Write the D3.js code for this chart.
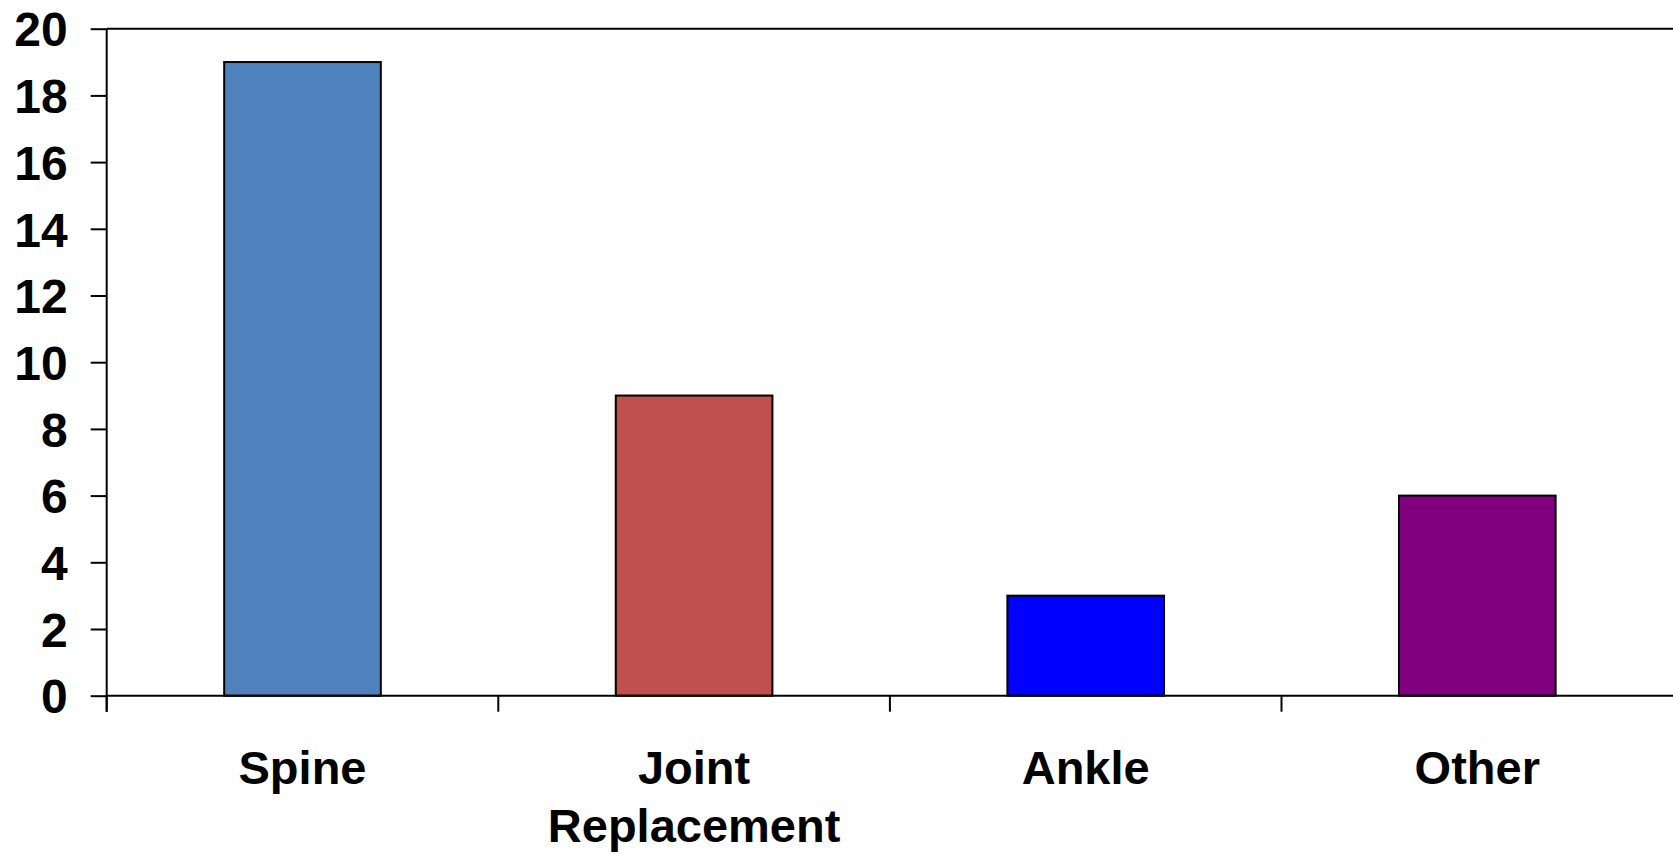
<!DOCTYPE html>
<html>
<head>
<meta charset="utf-8">
<script src="https://cdn.jsdelivr.net/npm/d3@7"></script>
<style>
  html, body { margin: 0; padding: 0; background: #fff; }
  svg { display: block; }
  text { font-family: "Liberation Sans", Arial, sans-serif; font-weight: bold; fill: #000; }
</style>
</head>
<body>
<svg id="chart" width="1673" height="856"></svg>
<script>
// Procedure counts by category
const categories = ["Spine", "Joint Replacement", "Ankle", "Other"];
const labelLines = [["Spine"], ["Joint", "Replacement"], ["Ankle"], ["Other"]];
const values = [19, 9, 3, 6];
const colors = ["#4F81BD", "#C0504D", "#0000FF", "#800080"];
const yTicks = [0, 2, 4, 6, 8, 10, 12, 14, 16, 18, 20];

const svg = d3.select("#chart");
const plotLeft = 106.7, plotRight = 1673.1, plotTop = 28.7, plotBottom = 695.7;

const x = d3.scaleBand()
  .domain(categories)
  .range([plotLeft, plotRight])
  .paddingInner(0.6)
  .paddingOuter(0.3);

const y = d3.scaleLinear().domain([0, 20]).range([plotBottom, plotTop]);

// Y axis ticks and labels
const yAxis = d3.axisLeft(y)
  .tickValues(yTicks)
  .tickFormat(d3.format("d"))
  .tickSize(16)
  .tickPadding(23);

const gy = svg.append("g")
  .attr("transform", `translate(${plotLeft},0)`)
  .call(yAxis);
gy.select(".domain").remove();
gy.selectAll(".tick line").attr("stroke", "#000").attr("stroke-width", 2);
gy.selectAll(".tick text")
  .attr("dy", "0.36em")
  .style("font-size", "48px")
  .style("font-family", '"Liberation Sans", Arial, sans-serif')
  .style("font-weight", "bold")
  .attr("fill", "#000");

// Bars
svg.append("g")
  .selectAll("rect")
  .data(categories)
  .join("rect")
  .attr("x", d => x(d))
  .attr("y", (d, i) => y(values[i]))
  .attr("width", x.bandwidth())
  .attr("height", (d, i) => y(0) - y(values[i]))
  .attr("fill", (d, i) => colors[i])
  .attr("stroke", "#000")
  .attr("stroke-width", 2);

// Plot frame: top border, left axis and baseline
const tickLen = 16;
svg.append("line")
  .attr("x1", plotLeft).attr("x2", plotRight)
  .attr("y1", y(20)).attr("y2", y(20))
  .attr("stroke", "#000").attr("stroke-width", 2);
svg.append("line")
  .attr("x1", plotLeft).attr("x2", plotLeft)
  .attr("y1", y(20)).attr("y2", y(0) + tickLen)
  .attr("stroke", "#000").attr("stroke-width", 2);
svg.append("line")
  .attr("x1", plotLeft).attr("x2", plotRight)
  .attr("y1", y(0)).attr("y2", y(0))
  .attr("stroke", "#000").attr("stroke-width", 2);

// Category boundary ticks on the x axis
const step = x.step();
const boundaries = categories.map(c => x(c) + x.bandwidth() / 2 - step / 2);
svg.append("g")
  .selectAll("line")
  .data(boundaries)
  .join("line")
  .attr("x1", d => d).attr("x2", d => d)
  .attr("y1", y(0)).attr("y2", y(0) + tickLen)
  .attr("stroke", "#000").attr("stroke-width", 2);

// Category labels
const labels = svg.append("g")
  .selectAll("text")
  .data(categories)
  .join("text")
  .attr("x", d => x(d) + x.bandwidth() / 2)
  .attr("y", y(0) + 88)
  .attr("text-anchor", "middle")
  .style("font-size", "47px");
labels.each(function(d, i) {
  const t = d3.select(this);
  labelLines[i].forEach((line, j) => {
    t.append("tspan")
      .attr("x", x(d) + x.bandwidth() / 2)
      .attr("dy", j === 0 ? 0 : 58)
      .text(line);
  });
});
</script>
</body>
</html>
